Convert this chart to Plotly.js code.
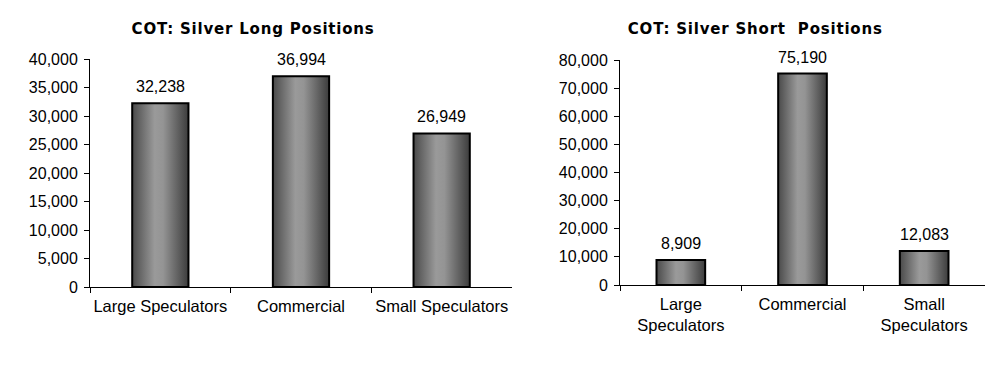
<!DOCTYPE html>
<html>
<head>
<meta charset="utf-8">
<script src="https://cdn.plot.ly/plotly-3.0.1.min.js"></script>
<style>html,body{margin:0;padding:0;background:#fff;}#chart{width:1008px;height:382px;}</style>
</head>
<body>
<div id="chart"></div>
<script>
// ---- data ----
const longCategories = ["Large Speculators", "Commercial", "Small Speculators"];
const longValues = [32238, 36994, 26949];
const shortCategories = ["Large<br>Speculators", "Commercial", "Small<br>Speculators"];
const shortValues = [8909, 75190, 12083];
const longTitle = "COT: Silver Long Positions";
const shortTitle = "COT: Silver Short\u00A0 Positions";
const longTicks = [0, 5000, 10000, 15000, 20000, 25000, 30000, 35000, 40000];
const shortTicks = [0, 10000, 20000, 30000, 40000, 50000, 60000, 70000, 80000];

const fmt = v => v.toLocaleString("en-US");
const W = 1008, H = 382;
const tickFont = {family: "Liberation Sans, Arial, sans-serif", size: 16, color: "#000"};
const catFont = {family: "Liberation Sans, Arial, sans-serif", size: 16.5, color: "#000"};

const barStyle = {color: "#808080", line: {color: "#000", width: 2}};

const traces = [
  {type: "bar", x: longCategories, y: longValues, xaxis: "x", yaxis: "y",
   width: 0.4, marker: barStyle, hoverinfo: "x+y"},
  {type: "bar", x: shortCategories, y: shortValues, xaxis: "x2", yaxis: "y2",
   width: 0.4, marker: barStyle, hoverinfo: "x+y"}
];

const annotations = [];
longCategories.forEach((c, i) => annotations.push({
  x: c, y: longValues[i], xref: "x", yref: "y", text: fmt(longValues[i]),
  showarrow: false, yanchor: "bottom", yshift: 6, font: tickFont
}));
shortCategories.forEach((c, i) => annotations.push({
  x: c, y: shortValues[i], xref: "x2", yref: "y2", text: fmt(shortValues[i]),
  showarrow: false, yanchor: "bottom", yshift: 6, font: tickFont
}));
const titleFont = {family: "DejaVu Sans, Verdana, sans-serif", size: 15, color: "#000", weight: "bold"};
annotations.push({xref: "paper", yref: "paper", x: 253 / W, y: 1 - 29 / H, text: "<b>" + longTitle + "</b>",
  showarrow: false, xanchor: "center", yanchor: "middle", font: titleFont});
annotations.push({xref: "paper", yref: "paper", x: 755 / W, y: 1 - 29 / H, text: "<b>" + shortTitle + "</b>",
  showarrow: false, xanchor: "center", yanchor: "middle", font: titleFont});

const xCommon = {type: "category", showline: true, linecolor: "#000", linewidth: 1,
  ticks: "outside", tickson: "boundaries", ticklen: 5, tickcolor: "#000", tickwidth: 1,
  showgrid: false, zeroline: false, tickfont: catFont, fixedrange: true, ticklabelstandoff: 4,
  tickangle: 0};
const yCommon = {showline: true, linecolor: "#000", linewidth: 1, ticks: "outside",
  ticklen: 5, tickcolor: "#000", tickwidth: 1, showgrid: false, zeroline: false,
  tickfont: tickFont, tickformat: ",d", fixedrange: true, tickmode: "array", ticklabelstandoff: 3};

const layout = {
  width: W, height: H,
  margin: {l: 0, r: 0, t: 0, b: 0},
  paper_bgcolor: "#fff", plot_bgcolor: "#fff",
  showlegend: false,
  xaxis: Object.assign({}, xCommon, {domain: [90 / W, 512 / W], anchor: "y"}),
  yaxis: Object.assign({}, yCommon, {domain: [(H - 287) / H, (H - 59) / H], range: [0, 40000],
    tickvals: longTicks, ticktext: longTicks.map(fmt), anchor: "x"}),
  xaxis2: Object.assign({}, xCommon, {domain: [620 / W, 985 / W], anchor: "y2"}),
  yaxis2: Object.assign({}, yCommon, {domain: [(H - 285) / H, (H - 60) / H], range: [0, 80000],
    tickvals: shortTicks, ticktext: shortTicks.map(fmt), anchor: "x2"}),
  annotations: annotations
};

Plotly.newPlot("chart", traces, layout, {displayModeBar: false, staticPlot: true}).then(gd => {
  const svg = gd.querySelector("svg.main-svg");
  const ns = "http://www.w3.org/2000/svg";
  let defs = svg.querySelector("defs");
  if (!defs) { defs = document.createElementNS(ns, "defs"); svg.insertBefore(defs, svg.firstChild); }
  const g = document.createElementNS(ns, "linearGradient");
  g.setAttribute("id", "barGrad");
  g.setAttribute("x1", "0"); g.setAttribute("y1", "0");
  g.setAttribute("x2", "1"); g.setAttribute("y2", "0");
  [["0", "#4a4a4a"], ["0.4", "#9a9a9a"], ["0.55", "#949494"], ["1", "#3c3c3c"]].forEach(([o, c]) => {
    const s = document.createElementNS(ns, "stop");
    s.setAttribute("offset", o); s.setAttribute("stop-color", c);
    g.appendChild(s);
  });
  defs.appendChild(g);
  gd.querySelectorAll(".barlayer .point path").forEach(p => {
    p.style.fill = "url(#barGrad)";
  });
  // title letter spacing to approximate Verdana Bold width
  gd.querySelectorAll(".annotation-text").forEach(t => {
    if (t.textContent.indexOf("COT") === 0) t.style.letterSpacing = "0.8px";
  });
});
</script>
</body>
</html>
